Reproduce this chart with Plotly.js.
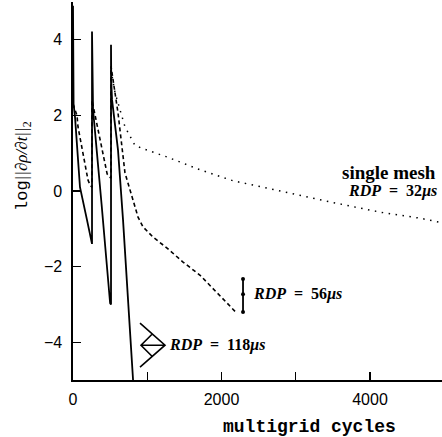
<!DOCTYPE html>
<html>
<head>
<meta charset="utf-8">
<script src="https://cdn.plot.ly/plotly-3.0.1.min.js"></script>
<style>html,body{margin:0;padding:0;background:#fff;}#chart{width:442px;height:437px;}</style>
</head>
<body>
<div id="chart"></div>
<script>
// RDP = 118 µs (solid)
const solidCycles = [0, 8, 27, 67, 94, 189, 256, 256, 262, 270, 385, 500, 512, 512, 515, 526, 606, 674, 809];
const solidLog    = [4.9, 2.3, 1.96, 0.9, 0.1, -0.77, -1.4, 4.22, 2.3, 2.15, -0.35, -2.97, -3.0, 3.87, 2.9, 2.41, 1.09, -0.77, -5.0];
// RDP = 56 µs (dashed)
const dashedCycles = [0, 54, 67, 150, 202, 229, 256, 256, 300, 391, 460, 505, 512, 512, 539, 606, 700, 809, 876, 943, 1078, 1267, 1482, 1712, 1940, 2210];
const dashedLog    = [2.3, 2.0, 1.7, 0.83, 0.29, 0.16, 0.1, 2.4, 2.0, 1.17, 0.45, 0.35, 0.35, 3.3, 2.94, 2.07, 0.48, -0.24, -0.69, -0.95, -1.22, -1.51, -1.88, -2.23, -2.68, -3.24];
// single mesh, RDP = 32 µs (dotted)
const dottedCycles = [512, 566, 700, 836, 1000, 1267, 1712, 2156, 2700, 3464, 4137, 4676, 4970];
const dottedLog    = [3.2, 2.6, 1.7, 1.2, 1.08, 0.9, 0.56, 0.27, 0.04, -0.29, -0.56, -0.72, -0.84];
// marker for RDP = 56 µs
const mark56Cycles = [2290, 2290, 2290];
const mark56Log    = [-2.33, -2.73, -3.2];
// marker anchor for RDP = 118 µs
const mark118Cycle = 916;
const mark118Log = -4.08;

const xTickVals = [0, 2000, 4000];
const xTickText = ['0', '2000', '4000'];
const yTickVals = [-4, -2, 0, 2, 4];
const yTickText = ['\u22124', '\u22122', '0', '2', '4'];

const labelSingle = 'single mesh';
const label32 = '<i>RDP</i>\u00a0\u00a0=\u00a0\u00a032<i>\u03bcs</i>';
const label56 = '<i>RDP</i>\u00a0\u00a0=\u00a0\u00a056<i>\u03bcs</i>';
const label118 = '<i>RDP</i>\u00a0\u00a0=\u00a0\u00a0118<i>\u03bcs</i>';
const xTitle = 'multigrid cycles';
const yTitle = '<span style="font-family:\'Liberation Mono\'">log</span><i>||\u2202\u03c1/\u2202t||</i><sub>2</sub>';

const traces = [
  {x: solidCycles, y: solidLog, mode: 'lines', line: {color: '#000', width: 1.8}, hoverinfo: 'skip'},
  {x: dashedCycles, y: dashedLog, mode: 'lines', line: {color: '#000', width: 1.6, dash: '4px,3px'}, hoverinfo: 'skip'},
  {x: dottedCycles, y: dottedLog, mode: 'lines', line: {color: '#000', width: 1.5, dash: '1.5px,5.5px'}, hoverinfo: 'skip'},
  {x: mark56Cycles, y: mark56Log, mode: 'lines+markers', line: {color: '#000', width: 1.8}, marker: {color: '#000', size: 4}, hoverinfo: 'skip'}
];

const serif = 'Liberation Serif, serif';
const M = {l: 73, r: 0, t: 2, b: 57};
const plotW = 442 - M.l - M.r;
const plotH = 437 - M.t - M.b;
const px2paperX = p => (p - M.l) / plotW;
const px2paperY = p => (437 - M.b - p) / plotH;

const layout = {
  width: 442, height: 437,
  margin: M,
  paper_bgcolor: '#fff', plot_bgcolor: '#fff',
  showlegend: false,
  font: {family: 'Liberation Sans, Arial, sans-serif', color: '#000', size: 16},
  xaxis: {
    range: [0, 4970], showgrid: false, zeroline: false,
    showline: true, linecolor: '#000', linewidth: 1.6, mirror: false,
    ticks: 'inside', ticklen: 8, tickwidth: 1.3, tickcolor: '#000',
    tickvals: xTickVals, ticktext: xTickText, ticklabelstandoff: 4,
    tickfont: {size: 16},
    minor: {dtick: 1000, tick0: 0, ticks: 'inside', ticklen: 8, tickwidth: 1.3, tickcolor: '#000', showgrid: false}
  },
  yaxis: {
    range: [-5, 5], showgrid: false, zeroline: false,
    showline: true, linecolor: '#000', linewidth: 1.6,
    ticks: 'inside', ticklen: 8, tickwidth: 1.3, tickcolor: '#000',
    tickvals: yTickVals, ticktext: yTickText, ticklabelstandoff: 6,
    tickfont: {size: 16}
  },
  annotations: [
    {text: labelSingle, x: 4915, y: 0.5, xref: 'x', yref: 'y', xanchor: 'right', yanchor: 'middle', showarrow: false,
     font: {family: serif, size: 19, color: '#000', weight: 'bold'}},
    {text: label32, x: 4935, y: 0.0, xref: 'x', yref: 'y', xanchor: 'right', yanchor: 'middle', showarrow: false,
     font: {family: serif, size: 16, color: '#000', weight: 'bold'}},
    {text: label56, x: 2400, y: -2.73, xref: 'x', yref: 'y', xanchor: 'left', yanchor: 'middle', showarrow: false,
     font: {family: serif, size: 16, color: '#000', weight: 'bold'}},
    {text: label118, x: 1270, y: -4.08, xref: 'x', yref: 'y', xanchor: 'left', yanchor: 'middle', showarrow: false,
     font: {family: serif, size: 16, color: '#000', weight: 'bold'}},
    {text: xTitle, x: px2paperX(309), y: px2paperY(427), xref: 'paper', yref: 'paper', xanchor: 'center', yanchor: 'middle', showarrow: false,
     font: {family: 'Liberation Mono, monospace', size: 18, color: '#000', weight: 'bold'}},
    {text: yTitle, x: px2paperX(23), y: px2paperY(166), xref: 'paper', yref: 'paper', xanchor: 'center', yanchor: 'middle', showarrow: false, textangle: -90,
     font: {family: serif, size: 17, color: '#000'}}
  ],
  shapes: [
    {type: 'path', xref: 'x', yref: 'y', xsizemode: 'pixel', ysizemode: 'pixel',
     xanchor: mark118Cycle, yanchor: mark118Log,
     path: 'M -1,22 L 24,0 L -1,-22 M 11,11 L 0,0 L 11,-11 M 0,0 L 24,0',
     line: {color: '#000', width: 1.6}}
  ]
};

Plotly.newPlot('chart', traces, layout, {displayModeBar: false, staticPlot: true});
</script>
</body>
</html>
